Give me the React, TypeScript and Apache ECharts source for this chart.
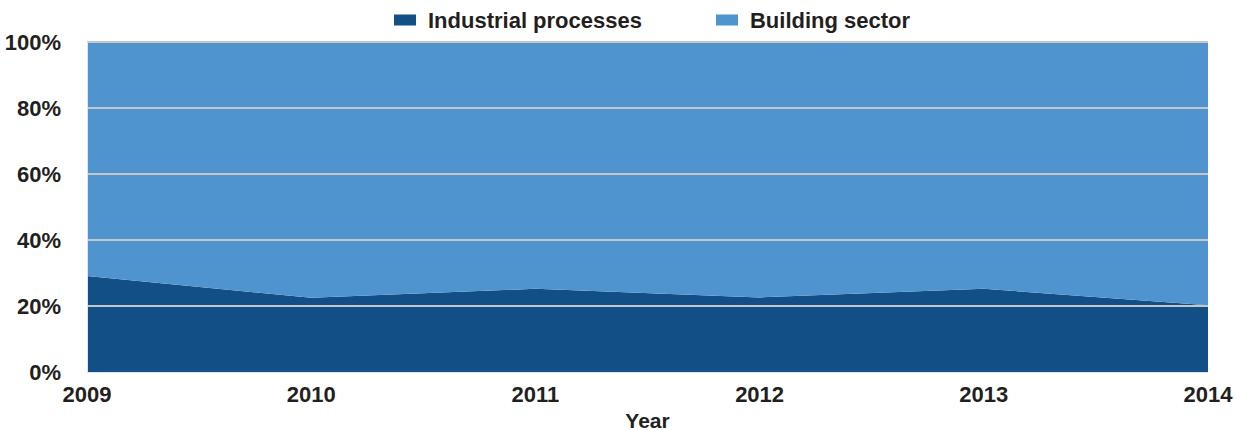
import React, { useEffect, useRef } from "react";
import * as echarts from "echarts";

const years = ["2009", "2010", "2011", "2012", "2013", "2014"];
const industrial = [29.1, 22.5, 25.2, 22.6, 25.2, 20.2];
const building = [70.9, 77.5, 74.8, 77.4, 74.8, 79.8];
const yTicks = [0, 20, 40, 60, 80, 100];

export default function App() {
  const ref = useRef<HTMLDivElement>(null);
  useEffect(() => {
    const chart = echarts.init(ref.current!, null, { renderer: "svg" });
    const font = "'Liberation Sans', Arial, Helvetica, sans-serif";
    chart.setOption({
      animation: false,
      textStyle: { fontFamily: font },
      legend: {
        top: 4,
        left: 389,
        icon: "rect",
        itemWidth: 22,
        itemHeight: 11,
        itemGap: 74,
        textStyle: {
          fontSize: 22,
          fontWeight: "bold",
          color: "#231f20",
          fontFamily: font,
          padding: [0, 0, 0, 7],
        },
        data: ["Industrial processes", "Building sector"],
      },
      grid: { left: 87, right: 26, top: 42, bottom: 58, outerBoundsMode: "none", containLabel: false },
      xAxis: {
        type: "category",
        data: years,
        boundaryGap: false,
        name: "Year",
        nameLocation: "middle",
        nameGap: 36,
        nameTextStyle: { fontSize: 21, fontWeight: "bold", color: "#231f20", lineHeight: 18 },
        axisLine: { show: true, lineStyle: { color: "#dbe8f5", width: 1 } },
        axisTick: { show: false },
        axisLabel: { fontSize: 22, fontWeight: "bold", color: "#231f20", margin: 11 },
        splitLine: { show: false },
      },
      yAxis: {
        type: "value",
        min: yTicks[0],
        max: yTicks[yTicks.length - 1],
        interval: 20,
        z: 5,
        axisLine: { show: true, lineStyle: { color: "#dbe8f5", width: 1 } },
        axisTick: { show: false },
        axisLabel: {
          fontSize: 22,
          fontWeight: "bold",
          color: "#231f20",
          margin: 26,
          formatter: (v: number) => v + "%",
        },
        splitLine: {
          show: true,
          lineStyle: { color: "#c6c6c6", width: 2 },
          showMinLine: false,
        },
      },
      series: [
        {
          name: "Industrial processes",
          type: "line",
          stack: "total",
          data: industrial,
          symbol: "none",
          lineStyle: { width: 0 },
          areaStyle: { color: "#134f87", opacity: 1 },
          itemStyle: { color: "#134f87" },
        },
        {
          name: "Building sector",
          type: "line",
          stack: "total",
          data: building,
          symbol: "none",
          lineStyle: { width: 0 },
          areaStyle: { color: "#4f94cf", opacity: 1 },
          itemStyle: { color: "#4f94cf" },
        },
      ],
    });
    return () => chart.dispose();
  }, []);
  return <div ref={ref} style={{ width: 1234, height: 430, position: "absolute", left: 0, top: 0 }} />;
}
